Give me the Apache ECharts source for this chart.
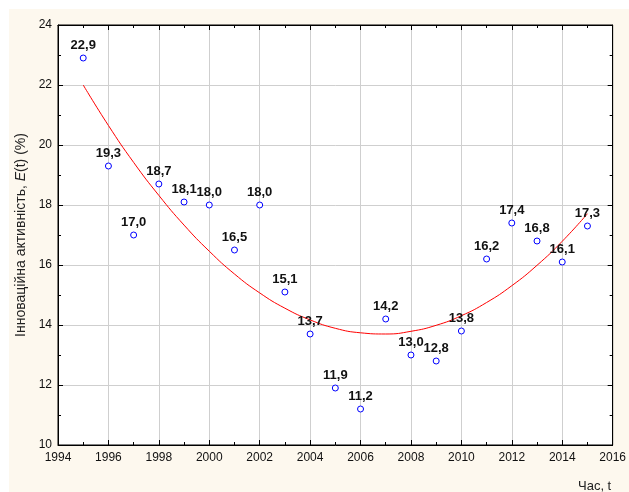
<!DOCTYPE html>
<html>
<head>
<meta charset="utf-8">
<script src="https://cdn.jsdelivr.net/npm/echarts@6/dist/echarts.min.js"></script>
<style>
  html, body { margin: 0; padding: 0; background: #fff; }
  #chart { width: 629px; height: 492px; }
</style>
</head>
<body>
<div id="chart"></div>
<script>
// Роки та значення інноваційної активності
const years = [1995, 1996, 1997, 1998, 1999, 2000, 2001, 2002, 2003, 2004, 2005,
               2006, 2007, 2008, 2009, 2010, 2011, 2012, 2013, 2014, 2015];
const values = [22.9, 19.3, 17.0, 18.7, 18.1, 18.0, 16.5, 18.0, 15.1, 13.7, 11.9,
                11.2, 14.2, 13.0, 12.8, 13.8, 16.2, 17.4, 16.8, 16.1, 17.3];
// Червона крива тренду
const trend = [22.0, 20.65, 19.42, 18.32, 17.33, 16.46, 15.70, 15.07, 14.56, 14.17, 13.89,
               13.74, 13.70, 13.79, 13.99, 14.31, 14.75, 15.31, 15.99, 16.79, 17.71];
const xTicks = [1994, 1996, 1998, 2000, 2002, 2004, 2006, 2008, 2010, 2012, 2014, 2016];
const yTicks = [10, 12, 14, 16, 18, 20, 22, 24];

let chart = echarts.init(document.getElementById('chart'));

const font = 'Liberation Sans, Arial, sans-serif';
const tick = { show: true, inside: true, length: 5, lineStyle: { color: '#000' } };
const minor = { show: true, splitNumber: 2, length: 3, lineStyle: { color: '#000' } };

let option = {
    animation: false,
    textStyle: { fontFamily: font },
    graphic: [
        { type: 'rect', z: -10, shape: { x: 9, y: 9, width: 620, height: 483 }, style: { fill: '#fdf8ee' } },
        { type: 'text', left: 578, top: 480, style: { text: 'Час, t', font: '13px ' + font, fill: '#222' } }
    ],
    grid: {
        left: 58, right: 16, top: 25, bottom: 47,
        show: true, backgroundColor: '#fff', borderColor: '#000', borderWidth: 1
    },
    xAxis: [{
        type: 'value', min: xTicks[0], max: xTicks[xTicks.length - 1], interval: 2,
        axisLine: { show: true, onZero: false, lineStyle: { color: '#000' } },
        axisTick: tick, minorTick: minor,
        axisLabel: { color: '#111', fontSize: 12, margin: 7, formatter: v => String(v) },
        splitLine: { show: true, lineStyle: { color: '#cfcfcf' } }
    }, {
        type: 'value', position: 'top', min: xTicks[0], max: xTicks[xTicks.length - 1], interval: 2,
        axisLine: { show: true, onZero: false, lineStyle: { color: '#000' } },
        axisTick: tick, minorTick: minor, axisLabel: { show: false }, splitLine: { show: false }
    }],
    yAxis: [{
        type: 'value', min: yTicks[0], max: yTicks[yTicks.length - 1], interval: 2,
        axisLine: { show: true, onZero: false, lineStyle: { color: '#000' } },
        axisTick: tick, minorTick: minor,
        axisLabel: { color: '#111', fontSize: 12, margin: 6 },
        splitLine: { show: true, lineStyle: { color: '#cfcfcf' } },
        name: 'Інноваційна активність, {i|E}(t) (%)',
        nameLocation: 'middle', nameRotate: 90, nameGap: 27,
        nameTextStyle: { fontSize: 14, color: '#222', rich: { i: { fontStyle: 'italic', fontSize: 14, color: '#222' } } }
    }, {
        type: 'value', position: 'right', min: yTicks[0], max: yTicks[yTicks.length - 1], interval: 2,
        axisLine: { show: true, onZero: false, lineStyle: { color: '#000' } },
        axisTick: tick, minorTick: minor, axisLabel: { show: false }, splitLine: { show: false }
    }],
    series: [{
        type: 'line',
        data: years.map((y, i) => [y, trend[i]]),
        smooth: true, showSymbol: false, silent: true,
        lineStyle: { color: '#ff0000', width: 1 }
    }, {
        type: 'scatter',
        data: years.map((y, i) => [y, values[i]]),
        symbol: 'circle', symbolSize: 6, z: 5,
        itemStyle: { color: '#ffffff', borderColor: '#0000ff', borderWidth: 1, opacity: 1 },
        label: {
            show: true, position: 'top', distance: 3,
            fontWeight: 'bold', fontSize: 13, color: '#111',
            formatter: p => p.value[1].toFixed(1).replace('.', ',')
        }
    }]
};

chart.setOption(option);
</script>
</body>
</html>
